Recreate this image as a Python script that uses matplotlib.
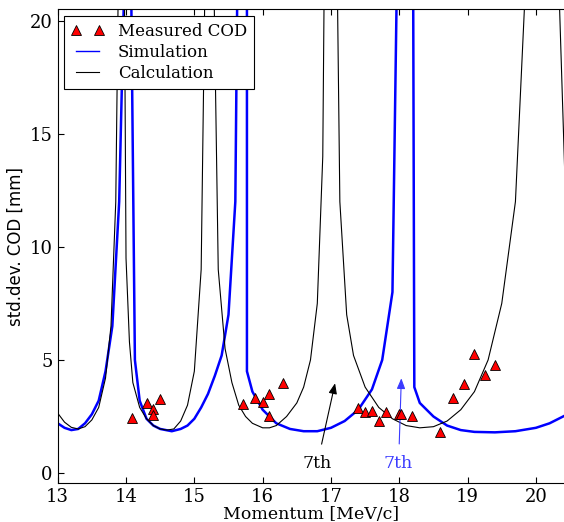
import matplotlib
matplotlib.use("Agg")
import matplotlib.pyplot as plt

# measured COD (red triangles)
meas_p = [14.09, 14.30, 14.40, 14.40, 14.50, 15.71, 15.89, 16.00, 16.10, 16.10, 16.30,
          17.40, 17.50, 17.60, 17.70, 17.80, 18.00, 18.03, 18.19, 18.59, 18.79, 18.95,
          19.10, 19.25, 19.40]
meas_cod = [2.45, 3.11, 2.83, 2.57, 3.26, 3.04, 3.31, 3.15, 3.48, 2.52, 3.97,
            2.86, 2.69, 2.75, 2.32, 2.69, 2.61, 2.61, 2.52, 1.80, 3.33, 3.92,
            5.27, 4.34, 4.78]

# simulation (blue)
sim_p = [13.0, 13.1, 13.2, 13.3, 13.4, 13.5, 13.6, 13.7, 13.8, 13.9, 14.0,
         14.07, 14.08, 14.13, 14.2, 14.3, 14.4, 14.5, 14.67, 14.8, 14.9, 15.0,
         15.1, 15.2, 15.3, 15.4, 15.5, 15.6, 15.64,
         15.77, 15.77, 15.85, 16.0, 16.2, 16.4, 16.6, 16.8, 17.0, 17.2, 17.4,
         17.6, 17.75, 17.9, 17.98,
         18.2, 18.22, 18.3, 18.5, 18.7, 18.9, 19.1, 19.4, 19.7, 20.0, 20.2, 20.43]
sim_cod = [2.2, 2.0, 1.9, 1.95, 2.2, 2.6, 3.2, 4.5, 6.5, 12, 25,
           25, 20, 5, 3.2, 2.4, 2.1, 1.95, 1.85, 1.95, 2.1, 2.4,
           2.9, 3.5, 4.3, 5.2, 7, 12, 25,
           25, 4.5, 3.6, 2.8, 2.2, 1.95, 1.85, 1.85, 2.0, 2.3, 2.8,
           3.7, 5.0, 8, 25,
           25, 3.8, 3.1, 2.5, 2.1, 1.9, 1.82, 1.8, 1.85, 2.0, 2.2, 2.55]

# calculation (black)
calc_p = [13.0, 13.1, 13.2, 13.3, 13.4, 13.5, 13.6, 13.7, 13.78, 13.85, 13.9,
          13.97, 14.0, 14.05, 14.1, 14.2, 14.3, 14.4, 14.5, 14.6, 14.7, 14.8,
          14.9, 15.0, 15.1, 15.17,
          15.27, 15.35, 15.45, 15.55, 15.65, 15.75, 15.85, 16.0, 16.1, 16.2,
          16.35, 16.5, 16.6, 16.7, 16.8, 16.88, 16.91,
          17.08, 17.13, 17.23, 17.33, 17.5, 17.7, 17.9, 18.1, 18.3, 18.5, 18.7,
          18.9, 19.1, 19.3, 19.5, 19.7, 19.9,
          20.3, 20.43]
calc_cod = [2.65, 2.25, 2.02, 1.95, 2.05, 2.35, 2.9, 4.2, 6.5, 12, 25,
            25, 9.5, 5.8, 4.0, 2.9, 2.4, 2.1, 1.95, 1.9, 1.95, 2.3,
            3.0, 4.5, 9, 25,
            25, 9, 5.5, 4.0, 3.0, 2.5, 2.2, 2.0, 2.0, 2.1,
            2.5, 3.1, 3.8, 5.0, 7.5, 14, 25,
            25, 12, 7, 5.2, 3.8, 2.9, 2.4, 2.1, 2.0, 2.05, 2.3,
            2.8, 3.6, 5.0, 7.5, 12, 25,
            25, 12.5]

fig = plt.figure(figsize=(5.64, 5.22), dpi=100)
ax = fig.add_axes([0.1023, 0.0747, 0.9, 0.9073])

ax.plot(meas_p, meas_cod, "^", color="red", mec="black", mew=0.6, ms=7,
        label="Measured COD", zorder=4)
ax.plot(sim_p, sim_cod, "-", color="blue", lw=1.8, label="Simulation")
ax.plot(calc_p, calc_cod, "-", color="black", lw=0.8, label="Calculation")

ax.annotate("7th", xy=(17.06, 3.97), xytext=(16.80, 0.42), ha="center", va="center",
            fontsize=12.5, family="DejaVu Serif", color="black",
            arrowprops=dict(arrowstyle="-|>,head_length=0.5,head_width=0.2",
                            color="black", lw=0.8, shrinkA=6, shrinkB=0))
ax.annotate("7th", xy=(18.03, 4.19), xytext=(17.99, 0.42), ha="center", va="center",
            fontsize=12.5, family="DejaVu Serif", color="#3a3aff",
            arrowprops=dict(arrowstyle="-|>,head_length=0.5,head_width=0.2",
                            color="#3a3aff", lw=0.8, shrinkA=6, shrinkB=0))

ax.set_xlim(13, 20.43)
ax.set_ylim(-0.44, 20.5)
ax.set_xticks(range(13, 21))
ax.set_yticks([0, 5, 10, 15, 20])
ax.tick_params(direction="in", top=True, right=False, length=4,
               labelsize=13)
for lab in ax.get_xticklabels() + ax.get_yticklabels():
    lab.set_family("DejaVu Serif")
ax.spines["right"].set_visible(False)
ax.set_xlabel("Momentum [MeV/c]", family="DejaVu Serif", fontsize=12.5, labelpad=0)
ax.set_ylabel("std.dev. COD [mm]", fontsize=12)

leg = ax.legend(loc="upper left", numpoints=2, prop=dict(family="DejaVu Serif", size=12),
                fancybox=False, framealpha=1, edgecolor="black",
                handlelength=2.0, borderaxespad=0.4, labelspacing=0.25)
leg.get_frame().set_linewidth(0.8)
leg.get_lines()[1].set_linewidth(1.0)

fig.savefig("out.png", dpi=100)
